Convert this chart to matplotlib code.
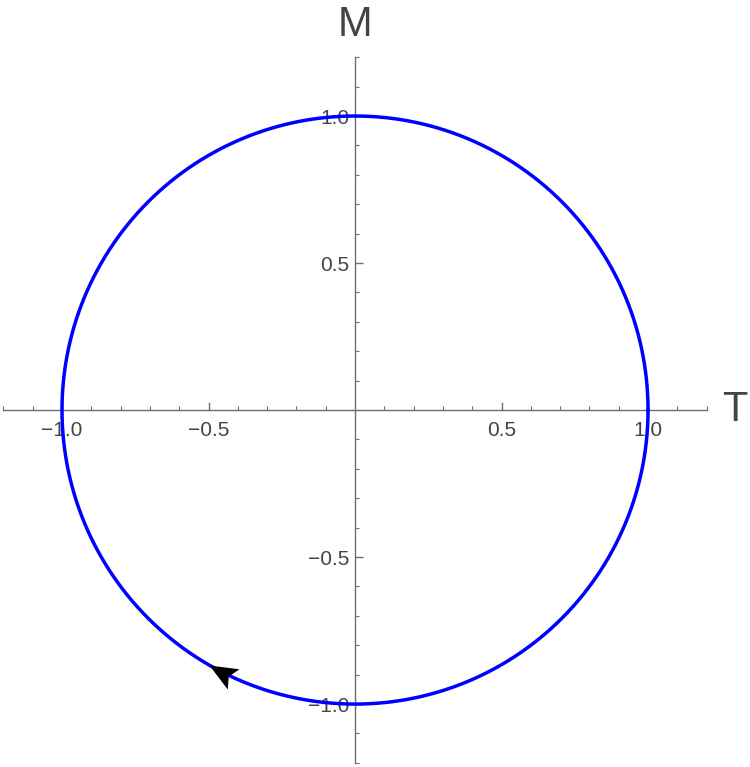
"""Phase portrait: unit circle in the (T, M) plane, traversed clockwise."""
import numpy as np
import matplotlib
matplotlib.use("Agg")
import matplotlib.pyplot as plt
from matplotlib.markers import MarkerStyle
from matplotlib.path import Path
from matplotlib.transforms import Affine2D

# data
radius = 1.0
n_points = 721
arrow_angle_deg = 240.0          # where the direction arrow sits on the circle
major_ticks = [-1.0, -0.5, 0.5, 1.0]
minor_ticks = [-1.2, -1.1, -0.9, -0.8, -0.7, -0.6, -0.4, -0.3, -0.2, -0.1,
               0.1, 0.2, 0.3, 0.4, 0.6, 0.7, 0.8, 0.9, 1.1, 1.2]
tick_labels = ["\u22121.0", "\u22120.5", "0.5", "1.0"]
axis_extent = 1.2
x_label = "T"
y_label = "M"

plt.rcParams["font.family"] = ["Liberation Sans", "DejaVu Sans"]
axis_color = "#6e6e6e"
label_color = "#444444"

fig = plt.figure(figsize=(7.5, 7.67), dpi=100)
ax = fig.add_axes([0, 0, 1, 1])
ax.set_xlim(-1.2116, 1.348)
ax.set_ylim(-1.214, 1.3946)

theta = np.linspace(0, 2 * np.pi, n_points)
ax.plot(radius * np.cos(theta), radius * np.sin(theta),
        color="#0000ff", lw=2.5, solid_capstyle="round", zorder=3)

# arrowhead (clockwise direction), notched like Mathematica's
a = np.deg2rad(arrow_angle_deg)
tip = (radius * np.cos(a), radius * np.sin(a))
heading = np.degrees(np.arctan2(-np.cos(a), np.sin(a)))
head = Path([(0, 0), (-1, 0.42), (-0.8, 0), (-1, -0.42), (0, 0)],
            [Path.MOVETO, Path.LINETO, Path.LINETO, Path.LINETO, Path.CLOSEPOLY])
marker = MarkerStyle(head, transform=Affine2D().rotate_deg(heading))
ax.plot([tip[0]], [tip[1]], marker=marker, markersize=40,
        color="black", markeredgewidth=0, linestyle="none", zorder=4)

# axes through the origin
for side in ("top", "right"):
    ax.spines[side].set_visible(False)
ax.spines["left"].set_position(("data", 0))
ax.spines["bottom"].set_position(("data", 0))
for side in ("left", "bottom"):
    ax.spines[side].set_bounds(-axis_extent, axis_extent)
    ax.spines[side].set_color(axis_color)
    ax.spines[side].set_linewidth(1.0)

ax.set_xticks(major_ticks)
ax.set_xticklabels(tick_labels)
ax.set_yticks(major_ticks)
ax.set_yticklabels(tick_labels)
ax.set_xticks(minor_ticks, minor=True)
ax.set_yticks(minor_ticks, minor=True)

ax.tick_params(axis="x", which="both", direction="in", color=axis_color,
               labelcolor=label_color, labelsize=15, pad=8)
ax.tick_params(axis="y", which="both", direction="in", color=axis_color,
               labelcolor=label_color, labelsize=15, pad=4)
ax.tick_params(which="major", length=5.5, width=1.0)
ax.tick_params(which="minor", length=3.0, width=0.8)

ax.text(1.295, 0, x_label, fontsize=30, color="#444444",
        ha="center", va="center")
ax.text(0, 1.31, y_label, fontsize=30, color="#444444",
        ha="center", va="center")

fig.savefig("out.png", dpi=100)
